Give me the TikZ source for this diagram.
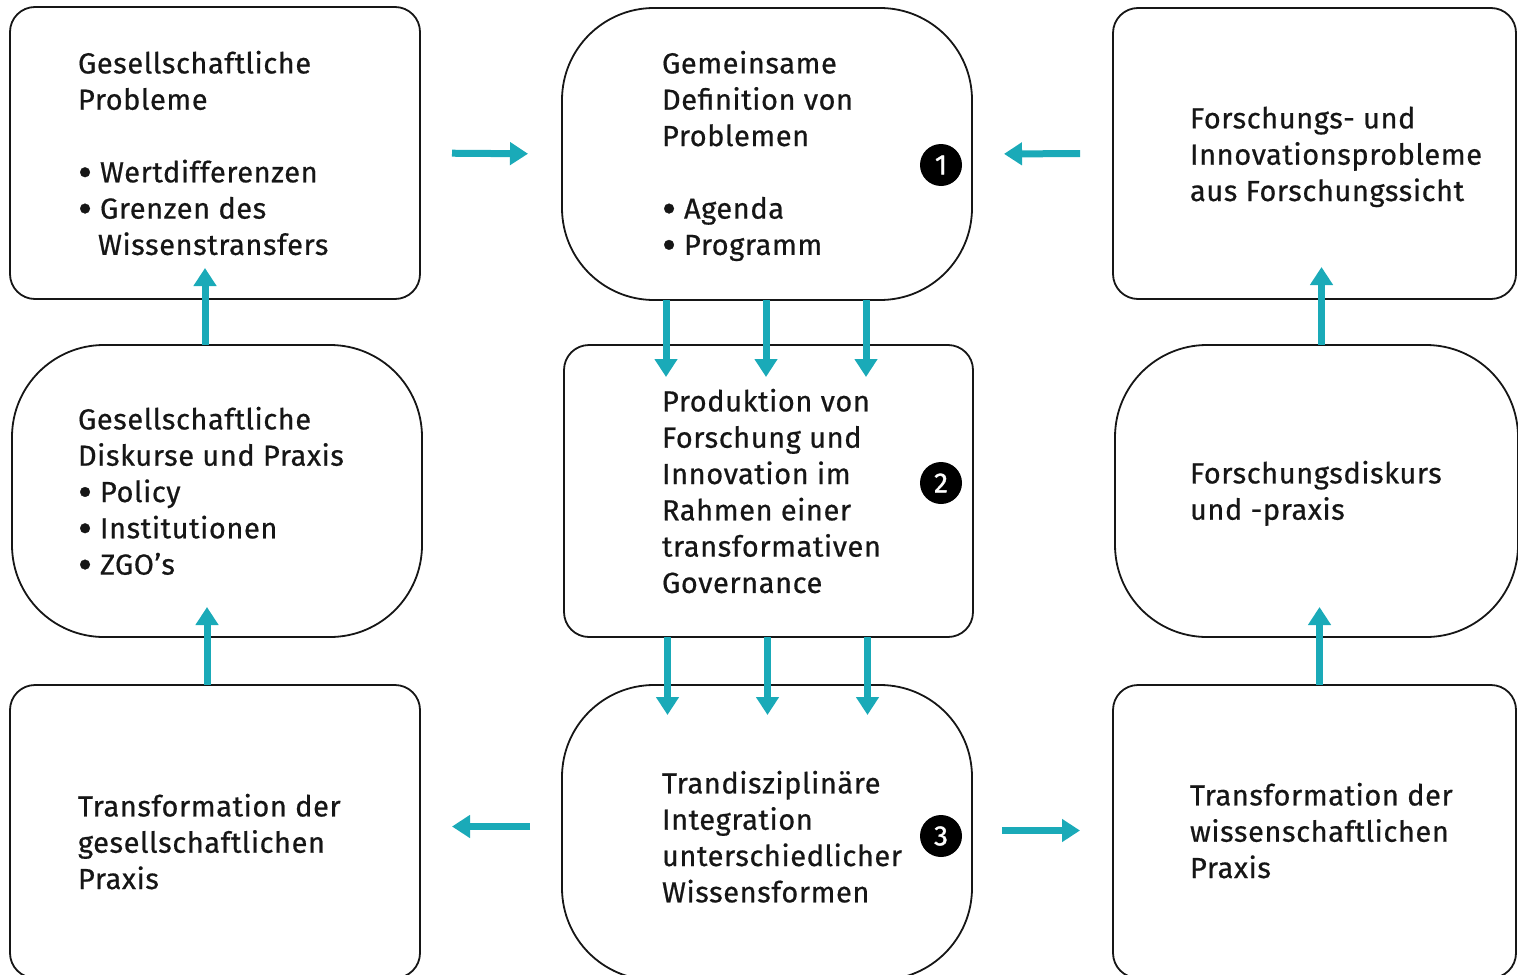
\documentclass[tikz,border=0pt]{standalone}
\usepackage{fontspec}
\setmainfont{Fira Sans}[LetterSpace=2.0, FakeBold=0.6]
\newfontfamily\numfont{Fira Sans}[FakeBold=1.2]
\usetikzlibrary{arrows.meta}
\definecolor{arrteal}{RGB}{26,170,184}
\definecolor{inkc}{RGB}{22,22,22}
\newcommand{\bul}{\makebox[11pt][l]{\smash{\raisebox{-2.4pt}{\scalebox{1.5}{•}}}}}
\newcommand{\hng}{\hspace*{10pt}}
\tikzset{
  frame/.style={draw=inkc, line width=0.9pt, inner sep=0pt, outer sep=0pt, anchor=north west, shape=rectangle},
  rbox/.style={frame, rounded corners=12.5pt},
  blob/.style={frame, rounded corners=46pt},
  txt/.style={anchor=north west, inner sep=0pt, outer sep=0pt, align=left, text=inkc,
    font=\fontsize{14.5}{18.15}\selectfont},
  num/.style={circle, fill=black, text=white, minimum size=21pt, inner sep=0pt,
    font=\fontsize{14}{16}\selectfont\numfont},
  arr/.style={draw=arrteal, line width=3.5pt, -{Triangle[width=11pt,length=9pt]}}
}
\begin{document}
\begin{tikzpicture}[x=0.5pt,y=-0.5pt]
\useasboundingbox (0,0) rectangle (1518,974);
% boxes
\node[rbox, minimum width=205pt, minimum height=146pt] (gp) at (10,7) {};
\node[blob, minimum width=205pt, minimum height=146pt] (gd) at (12,345) {};
\node[rbox, minimum width=205pt, minimum height=146.5pt] (gt) at (10,685) {};
\node[blob, minimum width=205pt, minimum height=146pt] (dp) at (562,8) {};
\node[rbox, minimum width=204.5pt, minimum height=146pt] (pf) at (564,345) {};
\node[blob, minimum width=205pt, minimum height=147.5pt] (ti) at (562,685) {};
\node[rbox, minimum width=201.5pt, minimum height=145.5pt] (fi) at (1113,8) {};
\node[blob, minimum width=201.5pt, minimum height=146pt] (fd) at (1115,345) {};
\node[rbox, minimum width=201.5pt, minimum height=146.5pt] (tw) at (1113,685) {};
% texts
\node[txt] (t1) at (78,48) {\strut Gesellschaftliche\\Probleme\\[18.15pt]\bul Wertdifferenzen\\\bul Grenzen des\\\hng Wissenstransfers};
\node[txt] (t2) at (662,48) {\strut Gemeinsame\\Definition von\\Problemen\\[18.15pt]\bul Agenda\\\bul Programm};
\node[txt] (t3) at (1190,103) {\strut Forschungs- und\\Innovationsprobleme\\aus Forschungssicht};
\node[txt] (t4) at (78,404) {\strut Gesellschaftliche\\Diskurse und Praxis\\\bul Policy\\\bul Institutionen\\\bul ZGO’s};
\node[txt] (t5) at (662,386) {\strut Produktion von\\Forschung und\\Innovation im\\Rahmen einer\\transformativen\\Governance};
\node[txt] (t6) at (1190,458) {\strut Forschungsdiskurs\\und -praxis};
\node[txt] (t7) at (78,791) {\strut Transformation der\\gesellschaftlichen\\Praxis};
\node[txt] (t8) at (662,768) {\strut Trandisziplinäre\\Integration\\unterschiedlicher\\Wissensformen};
\node[txt] (t9) at (1190,780) {\strut Transformation der\\wissenschaftlichen\\Praxis};
% numbers
\node[num] (n1) at (941,165) {1};
\node[num] (n2) at (941,483) {2};
\node[num] (n3) at (941,836) {3};
% arrows
\draw[arr, shorten <=16pt, shorten >=17pt] (gp.east) -- (dp.west);
\draw[arr, shorten <=16.5pt, shorten >=16pt] (fi.west) -- (dp.east);
\draw[arr, shorten <=16pt, shorten >=16pt] ([yshift=3pt]ti.west) -- ([yshift=3pt]ti.west -| gt.east);
\draw[arr, shorten <=15pt, shorten >=16.5pt] ([yshift=1pt]ti.east) -- ([yshift=1pt]ti.east -| tw.west);
\foreach \dx in {-50.5pt,-0.5pt,49.5pt}{
  \draw[arr, shorten >=-16pt] ([xshift=\dx]dp.south) -- ([xshift=\dx]dp.south |- pf.north);
  \draw[arr, shorten >=-15pt] ([xshift=\dx]pf.south) -- ([xshift=\dx]pf.south |- ti.north);
}
\draw[arr, shorten >=-15.5pt] ([xshift=-6pt]gd.north) -- ([xshift=-6pt]gd.north |- gp.south);
\draw[arr, shorten >=-15pt] ([xshift=-4pt]gt.north) -- ([xshift=-4pt]gt.north |- gd.south);
\draw[arr, shorten >=-16pt] ([xshift=2.5pt]fd.north) -- ([xshift=2.5pt]fd.north |- fi.south);
\draw[arr, shorten >=-15pt] ([xshift=2.5pt]tw.north) -- ([xshift=2.5pt]tw.north |- fd.south);
\end{tikzpicture}
\end{document}
